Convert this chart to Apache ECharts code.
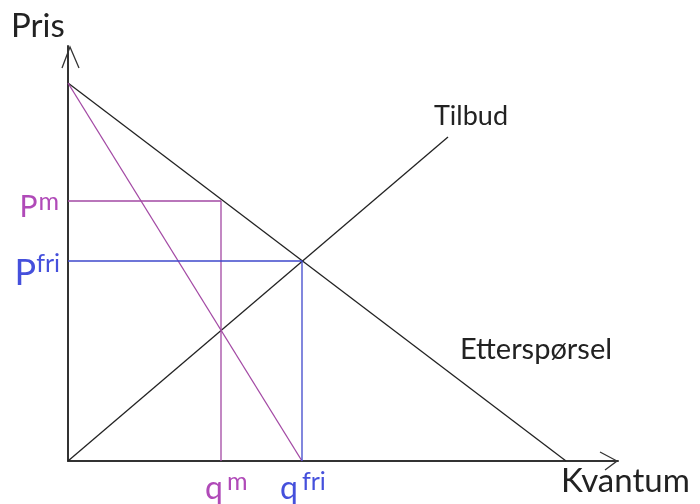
<!DOCTYPE html>
<html>
<head>
<meta charset="utf-8">
<script src="https://cdn.jsdelivr.net/npm/echarts@6/dist/echarts.min.js"></script>
<style>
	html, body { margin: 0; padding: 0; background: #fff; }
	#main { width: 700px; height: 504px; }
</style>
</head>
<body>
<div id="main"></div>
<script>
// kurver (kvantum, pris) i samme enheter som aksene
var demand = [[0, 378], [498, 0]];
var supply = [[0, 0], [380, 324]];
var mr = [[0, 378], [234, 0]];

// monopol og fri konkurranse
var qm = 153, pm = 260;
var qfri = 234, pfri = 200;

var purple = '#a349a4';
var blue = '#3f48cc';
var purpleText = '#b04ab8';
var blueText = '#4550dc';
var ink = '#222';
var font = 'Lato';

// bokstav med hevet skrift, f.eks. P^m
function supLabel(base, sup, color, pos, align, bSize, bLine, sSize, sLine, gap) {
	return {
		show: true,
		position: pos,
		align: align,
		verticalAlign: 'top',
		formatter: '{b|' + base + '}{s|' + sup + '}',
		rich: {
			b: { fontFamily: font, fontSize: bSize, lineHeight: bLine, color: color },
			s: { fontFamily: font, fontSize: sSize, lineHeight: sLine, verticalAlign: 'top', color: color, padding: [0, 0, 0, gap] }
		}
	};
}

function plainLine(data, color) {
	return {
		type: 'line',
		data: data,
		symbol: 'circle',
		symbolSize: 0.01,
		showSymbol: true,
		clip: false,
		silent: true,
		itemStyle: { color: color },
		lineStyle: { color: color, width: 1.3 },
		z: 3
	};
}

var myChart = echarts.init(document.getElementById('main'));

var pmLine = [
	{ value: [0, pm], label: supLabel('P', 'm', purpleText, [-9, -12], 'right', 30, 36, 25, 8, 1) },
	[qm, pm],
	{ value: [qm, 0], label: supLabel('q', 'm', purpleText, [-16, 8], 'left', 32, 40, 25, 12, 4) }
];
var pfriLine = [
	{ value: [0, pfri], label: supLabel('P', 'fri', blueText, [-8, -10], 'right', 36, 44, 25, 18, 0) },
	[qfri, pfri],
	{ value: [qfri, 0], label: supLabel('q', 'fri', blueText, [-22, 8], 'left', 32, 40, 25, 12, 4) }
];

var option = {
	backgroundColor: '#fff',
	animation: false,
	grid: { left: 68, right: 82, top: 46, bottom: 43 },
	xAxis: {
		type: 'value', min: 0, max: 550,
		axisLine: { show: true, lineStyle: { color: '#333', width: 2 } },
		axisTick: { show: false }, axisLabel: { show: false }, splitLine: { show: false }
	},
	yAxis: {
		type: 'value', min: 0, max: 415,
		axisLine: { show: true, lineStyle: { color: '#333', width: 2 } },
		axisTick: { show: false }, axisLabel: { show: false }, splitLine: { show: false }
	},
	graphic: [
		{ type: 'text', left: 11, top: 10, style: { text: 'Pris', font: '33px ' + font, fill: ink } },
		{ type: 'text', left: 561, top: 465, style: { text: 'Kvantum', font: '33px ' + font, fill: ink } },
		{ type: 'text', left: 434, top: 103, style: { text: 'Tilbud', font: '27px ' + font, fill: ink } },
		{ type: 'text', left: 460, top: 335, style: { text: 'Etterspørsel', font: '29px ' + font, fill: ink } },
		// pilspisser
		{ type: 'polyline', shape: { points: [[600, 452], [617, 461], [605, 470]] }, style: { stroke: '#333', lineWidth: 1.3, fill: null } },
		{ type: 'polyline', shape: { points: [[62, 68], [70, 47], [79, 68]] }, style: { stroke: '#333', lineWidth: 1.3, fill: null } }
	],
	series: [
		plainLine(demand, ink),
		plainLine(supply, ink),
		plainLine(mr, purple),
		plainLine(pmLine, purple),
		plainLine(pfriLine, blue)
	]
};

myChart.setOption(option);
</script>
</body>
</html>
